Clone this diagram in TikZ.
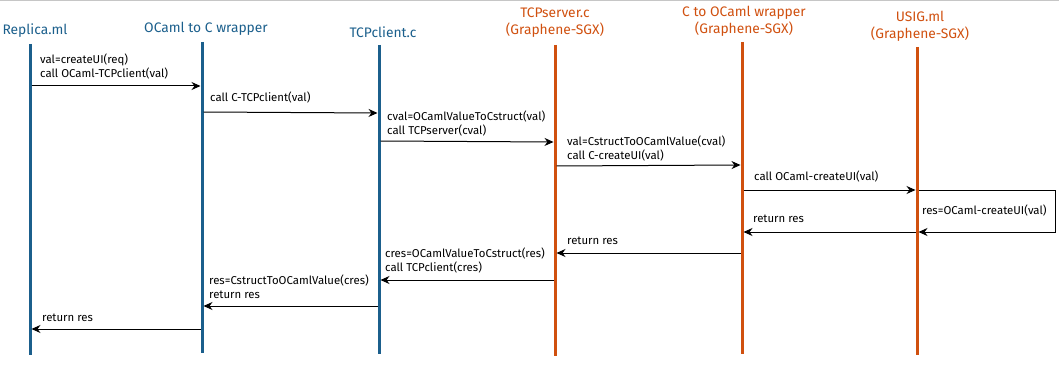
\documentclass[tikz,border=0pt]{standalone}
\usepackage{fontspec}
\setmainfont{Fira Sans}
\usetikzlibrary{arrows.meta}
\definecolor{lblue}{HTML}{1B5F8C}
\definecolor{lorange}{HTML}{D0500F}
\tikzset{
  lifeblue/.style={draw=lblue,line width=3pt},
  lifeorange/.style={draw=lorange,line width=3pt},
  titleblue/.style={text=lblue,font=\fontsize{13.8}{17}\selectfont,align=center,inner sep=0pt},
  titleorange/.style={text=lorange,font=\fontsize{13.8}{17}\selectfont,align=center,inner sep=0pt},
  msg/.style={draw=black,line width=1pt,-{Stealth[length=9pt,width=8pt]}},
  lbl/.style={font=\fontsize{11.4}{14}\selectfont,align=left,anchor=south west,inner sep=0pt}
}
\begin{document}
\begin{tikzpicture}[x=1pt,y=-1pt]
\useasboundingbox (0,0) rectangle (1059,366);
\draw[gray!45,line width=1pt] (0,0.5) -- (1059,0.5);
% titles
\node[titleblue] (t1) at (35,31) {Replica.ml};
\node[titleblue] (t2) at (206,29) {OCaml to C wrapper};
\node[titleblue] (t3) at (383,32) {TCPclient.c};
\node[titleorange] (t4) at (555,23) {TCPserver.c\\(Graphene-SGX)};
\node[titleorange] (t5) at (744,21) {C to OCaml wrapper\\(Graphene-SGX)};
\node[titleorange] (t6) at (920,26) {USIG.ml\\(Graphene-SGX)};
% lifelines
\coordinate (l1t) at (30,44); \coordinate (l1b) at (30,355);
\coordinate (l2t) at (202,42); \coordinate (l2b) at (202,353);
\coordinate (l3t) at (379,45); \coordinate (l3b) at (379,354);
\coordinate (l4t) at (555,45); \coordinate (l4b) at (555,356);
\coordinate (l5t) at (742,42); \coordinate (l5b) at (742,354);
\coordinate (l6t) at (917,47); \coordinate (l6b) at (917,355);
\draw[lifeblue] (l1t) -- (l1b);
\draw[lifeblue] (l2t) -- (l2b);
\draw[lifeblue] (l3t) -- (l3b);
\draw[lifeorange] (l4t) -- (l4b);
\draw[lifeorange] (l5t) -- (l5b);
\draw[lifeorange] (l6t) -- (l6b);
% message endpoints
\coordinate (m1a) at (31.5,86); \coordinate (m1b) at (200.5,86);
\coordinate (m2a) at (203.5,112); \coordinate (m2b) at (377.5,113);
\coordinate (m3a) at (380.5,141); \coordinate (m3b) at (553.5,142);
\coordinate (m4a) at (556.5,166); \coordinate (m4b) at (740.5,165);
\coordinate (m5a) at (743.5,190); \coordinate (m5b) at (915.5,190);
\coordinate (s1) at (918.5,190); \coordinate (s2) at (1055,190);
\coordinate (s3) at (1055,232); \coordinate (s4) at (918.5,232);
\coordinate (m7a) at (915.5,232); \coordinate (m7b) at (743.5,232);
\coordinate (m8a) at (740.5,253); \coordinate (m8b) at (556.5,253);
\coordinate (m9a) at (553.5,280); \coordinate (m9b) at (380.5,280);
\coordinate (m10a) at (377.5,306); \coordinate (m10b) at (203.5,306);
\coordinate (m11a) at (200.5,329); \coordinate (m11b) at (31.5,329);
\draw[msg] (m1a) -- (m1b);
\draw[msg] (m2a) -- (m2b);
\draw[msg] (m3a) -- (m3b);
\draw[msg] (m4a) -- (m4b);
\draw[msg] (m5a) -- (m5b);
\draw[msg] (s1) -- (s2) -- (s3) -- (s4);
\draw[msg] (m7a) -- (m7b);
\draw[msg] (m8a) -- (m8b);
\draw[msg] (m9a) -- (m9b);
\draw[msg] (m10a) -- (m10b);
\draw[msg] (m11a) -- (m11b);
% labels
\node[lbl] (n1) at (40,79) {val=createUI(req)\\call OCaml-TCPclient(val)};
\node[lbl] (n2) at (210,103) {call C-TCPclient(val)};
\node[lbl] (n3) at (387,136) {cval=OCamlValueToCstruct(val)\\call TCPserver(cval)};
\node[lbl] (n4) at (567,161) {val=CstructToOCamlValue(cval)\\call C-createUI(val)};
\node[lbl] (n5) at (754,182) {call OCaml-createUI(val)};
\node[lbl] (n6) at (922,216) {res=OCaml-createUI(val)};
\node[lbl] (n7) at (753,223) {return res};
\node[lbl] (n8) at (567,245) {return res};
\node[lbl] (n9) at (385,273) {cres=OCamlValueToCstruct(res)\\call TCPclient(cres)};
\node[lbl] (n10) at (209,299) {res=CstructToOCamlValue(cres)\\return res};
\node[lbl] (n11) at (42,322) {return res};
\end{tikzpicture}
\end{document}
